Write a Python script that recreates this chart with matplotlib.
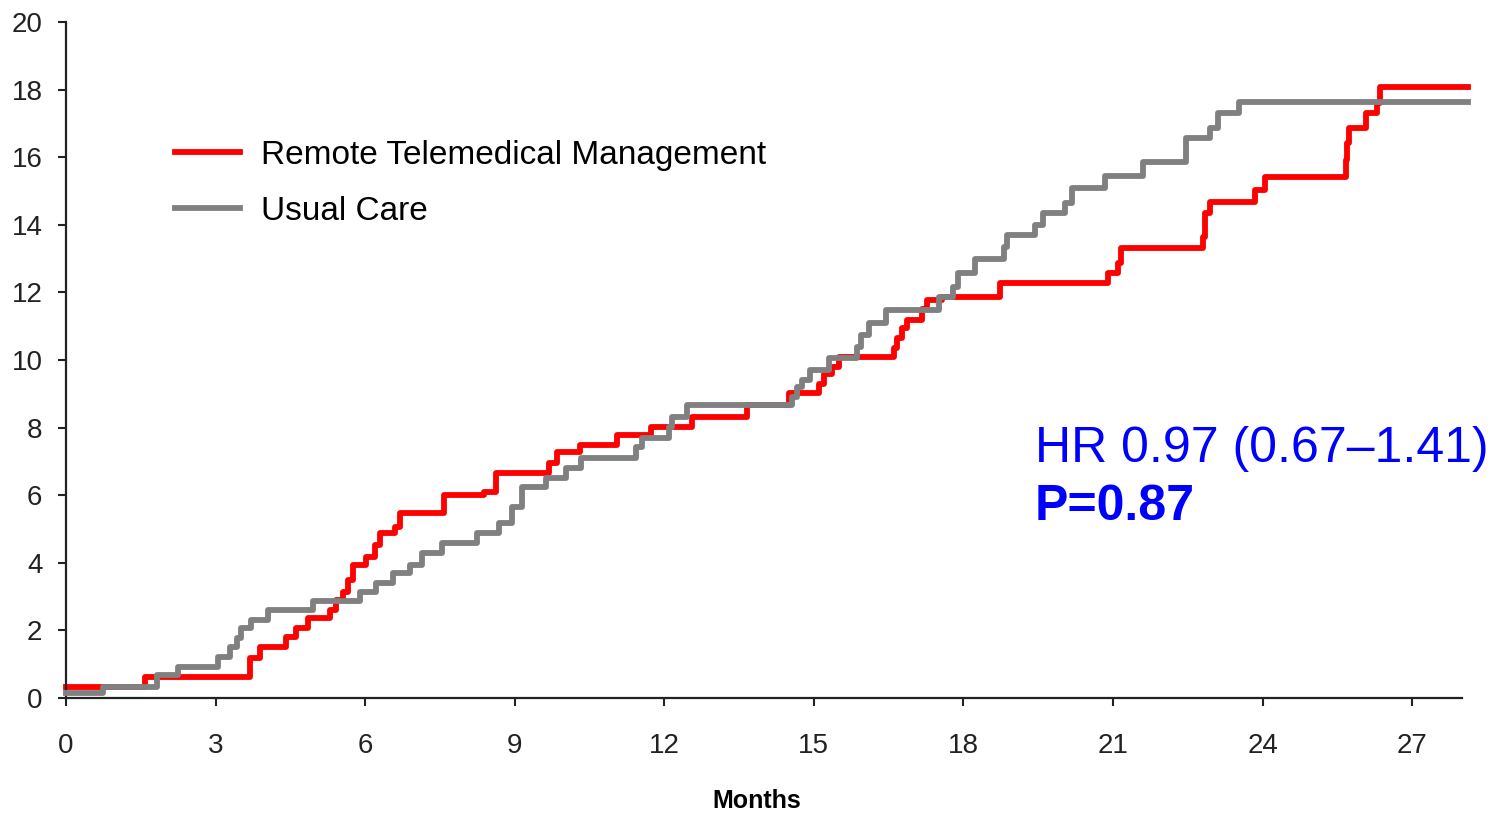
import numpy as np
import matplotlib
matplotlib.use("Agg")
import matplotlib.pyplot as plt

plt.rcParams['font.family'] = ['Liberation Sans', 'DejaVu Sans']

# step curves (months, cumulative value)
t_rtm = [0, 1.58, 3.69, 3.89, 4.42, 4.62, 4.85, 5.29, 5.42, 5.55, 5.65, 5.75,
         6.02, 6.19, 6.29, 6.59, 6.69, 7.59, 8.39, 8.63, 9.69, 9.85, 10.3,
         11.06, 11.73, 12.56, 13.66, 14.5, 15.1, 15.2, 15.36, 15.5, 16.6,
         16.67, 16.77, 16.87, 17.17, 17.27, 17.57, 18.74, 20.9, 21.1, 21.17,
         22.8, 22.84, 22.95, 23.85, 24.05, 25.67, 25.7, 25.73, 26.08, 26.3,
         26.36, 28.12]
v_rtm = [0.33, 0.63, 1.18, 1.52, 1.81, 2.07, 2.37, 2.6, 2.9, 3.15, 3.49, 3.94,
         4.18, 4.53, 4.87, 5.07, 5.46, 6.0, 6.1, 6.65, 6.94, 7.29, 7.49,
         7.78, 8.03, 8.3, 8.67, 9.02, 9.3, 9.6, 9.8, 10.1, 10.35,
         10.65, 10.95, 11.18, 11.5, 11.78, 11.87, 12.27, 12.57, 12.87, 13.3,
         13.65, 14.34, 14.68, 15.03, 15.42, 15.92, 16.41, 16.85, 17.3, 17.6,
         18.09, 18.09]

t_uc = [0, 0.74, 1.82, 2.25, 3.05, 3.28, 3.42, 3.52, 3.72, 4.05, 4.95, 5.89,
        6.22, 6.55, 6.89, 7.15, 7.55, 8.25, 8.69, 8.95, 9.15, 9.63, 10.03,
        10.33, 11.43, 11.56, 12.1, 12.16, 12.46, 14.56, 14.66, 14.76, 14.93,
        15.3, 15.87, 15.94, 16.1, 16.44, 17.5, 17.8, 17.9, 18.24, 18.81,
        18.87, 19.44, 19.6, 20.04, 20.17, 20.84, 21.6, 22.46, 22.95, 23.11,
        23.53, 28.12]
v_uc = [0.15, 0.33, 0.68, 0.93, 1.22, 1.52, 1.77, 2.07, 2.31, 2.6, 2.87, 3.15,
        3.4, 3.7, 3.94, 4.28, 4.58, 4.87, 5.17, 5.66, 6.25, 6.5, 6.8,
        7.1, 7.44, 7.69, 8.03, 8.32, 8.67, 8.91, 9.21, 9.41, 9.7,
        10.05, 10.39, 10.74, 11.09, 11.48, 11.87, 12.17, 12.57, 13.0, 13.35,
        13.7, 14.0, 14.34, 14.64, 15.08, 15.45, 15.87, 16.56, 16.85, 17.3,
        17.62, 17.62]

labels = ['Remote Telemedical Management', 'Usual Care']
x_ticks = np.arange(0, 28, 3)
y_ticks = np.arange(0, 21, 2)

W, H = 1505, 813
fig = plt.figure(figsize=(W / 100, H / 100), dpi=100)
ax = fig.add_axes([66 / W, 1 - 698 / H, (1462 - 66) / W, (698 - 22) / H])

ax.step(t_rtm, v_rtm, where='post', color='#ff0000', lw=4.2,
        zorder=2, clip_on=False, label=labels[0])
ax.step(t_uc, v_uc, where='post', color='#808080', lw=4.2,
        zorder=3, clip_on=False, label=labels[1])

ax.set_xlim(0, 28)
ax.set_ylim(0, 20)
ax.set_xticks(x_ticks)
ax.set_yticks(y_ticks)
for s in ['top', 'right']:
    ax.spines[s].set_visible(False)
for s in ['left', 'bottom']:
    ax.spines[s].set_linewidth(1.6)
    ax.spines[s].set_color('#222222')
ax.tick_params(direction='out', length=6, width=1.5, labelsize=20,
               colors='#222222')
ax.tick_params(axis='x', pad=19)
ax.tick_params(axis='y', pad=11)

ax.legend(loc='upper left', bbox_to_anchor=((175 - 66) / 1396, (698 - 140) / 676),
          frameon=False, fontsize=24, handlelength=1.95, handletextpad=0.62,
          labelspacing=0.74, borderpad=0, borderaxespad=0)

fig.text(1035 / W, 1 - 462 / H, 'HR 0.97 (0.67\u20131.41)', fontsize=36,
         color='#0000ff', va='baseline', ha='left')
fig.text(1035 / W, 1 - 520 / H, 'P=0.87', fontsize=36, fontweight='bold',
         color='#0000ff', va='baseline', ha='left')
fig.text(757 / W, 1 - 801 / H, 'Months', fontsize=18, fontweight='bold',
         ha='center', va='center')

fig.savefig('out.png', dpi=100)
